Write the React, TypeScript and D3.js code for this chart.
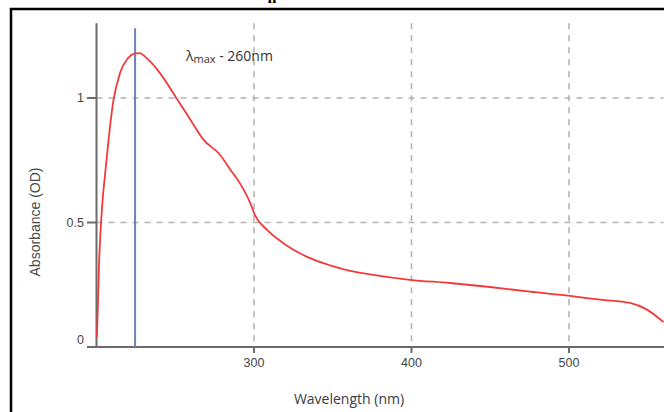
import React from 'react';
import * as d3 from 'd3';

// UV-Vis spectrum: wavelength (nm), absorbance (OD)
const wavelength = [
  200.2, 200.5, 200.9, 201.6, 202.9, 204.0, 205.4, 207.3, 210.5, 214.9, 220.0, 224.0, 227.5,
  231.0, 240.3, 251.1, 259.4, 267.6, 278.4, 284.8, 291.1, 297.5, 300.6, 308.3, 318.4,
  333.7, 348.3, 361.0, 373.7, 399.0, 424.4, 449.8, 475.2, 500.6, 519.7, 538.7, 549.5, 560.0,
];
const absorbance = [
  0.04, 0.09, 0.17, 0.33, 0.5, 0.6, 0.69, 0.81, 0.98, 1.1, 1.16, 1.178, 1.18,
  1.165, 1.1, 0.996, 0.915, 0.835, 0.772, 0.714, 0.657, 0.58, 0.53, 0.47, 0.418,
  0.362, 0.328, 0.306, 0.292, 0.27, 0.257, 0.241, 0.222, 0.205, 0.19, 0.177, 0.15, 0.1,
];
const xTicks = [300, 400, 500];
const yTicks = [0, 0.5, 1];
const yTickLabels = ['0', '0.5', '1'];
const lambdaMax = 224.5;

const W = 664;
const H = 412;

const App = () => {
  const x = d3.scaleLinear().domain([200, 560]).range([96.5, 663.5]);
  const y = d3.scaleLinear().domain([0, 1]).range([347, 98]);

  const points = wavelength.map((w, i) => [w, absorbance[i]] as [number, number]);
  const line = d3.line<[number, number]>()
    .x(d => x(d[0]))
    .y(d => y(d[1]))
    .curve(d3.curveMonotoneX);

  const grid = '#b3b3b3';
  const axis = '#6b6b6b';
  const labelFont = '"Liberation Sans", Arial, sans-serif';

  return (
    <svg width={W} height={H} style={{ position: 'absolute', left: 0, top: 0, background: '#fff' }}>
      {/* cut-off caption above the frame */}
      <text x={272} y={3} textAnchor="middle" fontFamily="'Liberation Serif', serif" fontWeight="bold" fontSize={16} fill="#000">n</text>
      {/* frame */}
      <path d={`M11,${H + 5} V9 H${W + 5}`} fill="none" stroke="#000" strokeWidth={2.5} />

      {/* grid */}
      {xTicks.map(t => (
        <line key={'gx' + t} x1={x(t)} x2={x(t)} y1={y(1.3)} y2={y(0)} stroke={grid} strokeWidth={1.6} strokeDasharray="6,6" />
      ))}
      {yTicks.filter(t => t > 0).map(t => (
        <line key={'gy' + t} x1={x(200)} x2={x(560)} y1={y(t)} y2={y(t)} stroke={grid} strokeWidth={1.6} strokeDasharray="6,6" />
      ))}

      {/* axes */}
      <line x1={x(200)} x2={x(200)} y1={y(1.3)} y2={y(0)} stroke={axis} strokeWidth={2} />
      <line x1={87} x2={W} y1={y(0)} y2={y(0)} stroke={axis} strokeWidth={2} />
      {yTicks.map((t, i) => (
        <g key={'yt' + t}>
          <line x1={87} x2={x(200)} y1={y(t)} y2={y(t)} stroke={axis} strokeWidth={2} />
          <text x={84} y={y(t) + (t === 0 ? -6 : 1)} textAnchor="end" dominantBaseline="middle"
            fontFamily={labelFont} fontSize={12.5} fill="#444">{yTickLabels[i]}</text>
        </g>
      ))}
      {xTicks.map(t => (
        <g key={'xt' + t}>
          <line x1={x(t)} x2={x(t)} y1={y(0)} y2={y(0) + 6} stroke={axis} strokeWidth={2} />
          <text x={x(t)} y={y(0) + 17} textAnchor="middle" dominantBaseline="middle"
            fontFamily={labelFont} fontSize={12.5} fill="#444">{t}</text>
        </g>
      ))}

      {/* lambda max marker */}
      <line x1={x(lambdaMax)} x2={x(lambdaMax)} y1={y(1.28)} y2={y(0)} stroke="#6e82b4" strokeWidth={2} />

      {/* spectrum */}
      <path d={line(points) ?? ''} fill="none" stroke="#f23a3a" strokeWidth={1.8} />

      {/* labels */}
      <text x={186} y={61} fontFamily='"Open Sans", sans-serif' fontSize={14} fill="#333">
        λ<tspan fontSize={11} dy={2}>max</tspan><tspan dy={-2}> - 260nm</tspan>
      </text>
      <text x={349} y={404} textAnchor="middle" fontFamily='"Open Sans", sans-serif' fontSize={14} fill="#3a3a48">Wavelength (nm)</text>
      <text transform={`translate(40,222) rotate(-90)`} textAnchor="middle" fontFamily={labelFont} fontSize={14} fill="#4a4a4a">Absorbance (OD)</text>
    </svg>
  );
};

export default App;
